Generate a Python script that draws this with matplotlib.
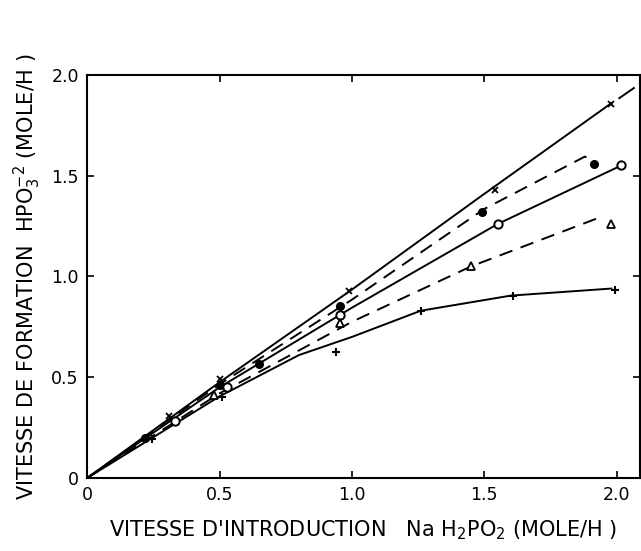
import matplotlib
matplotlib.use('Agg')
import matplotlib.pyplot as plt

# measured points (x = introduction rate, y = formation rate)
x_cross = [0.31, 0.50, 0.99, 1.54, 1.98]
y_cross = [0.31, 0.49, 0.93, 1.43, 1.855]
x_dot = [0.22, 0.50, 0.65, 0.955, 1.49, 1.915]
y_dot = [0.20, 0.46, 0.565, 0.855, 1.32, 1.56]
x_circ = [0.33, 0.53, 0.955, 1.55, 2.015]
y_circ = [0.285, 0.45, 0.81, 1.26, 1.555]
x_tri = [0.48, 0.955, 1.45, 1.98]
y_tri = [0.41, 0.77, 1.05, 1.26]
x_plus = [0.245, 0.51, 0.94, 1.26, 1.61, 1.995]
y_plus = [0.195, 0.40, 0.625, 0.83, 0.905, 0.935]

# hand-drawn curves
cx_cross = [0, 0.5, 1.0, 1.5, 1.98]
cy_cross = [0, 0.475, 0.935, 1.41, 1.86]
ex_cross = [2.01, 2.065]
ey_cross = [1.885, 1.935]
cx_dot = [0, 0.22, 0.5, 1.0, 1.5, 1.88, 1.90]
cy_dot = [0, 0.205, 0.465, 0.885, 1.335, 1.595, 1.58]
cx_circ = [0, 0.5, 1.0, 1.55, 2.0]
cy_circ = [0, 0.45, 0.845, 1.26, 1.54]
cx_tri = [0, 0.5, 1.0, 1.45, 1.95]
cy_tri = [0, 0.42, 0.775, 1.05, 1.30]
cx_plus = [0, 0.5, 0.8, 1.0, 1.26, 1.6, 1.98]
cy_plus = [0, 0.405, 0.61, 0.70, 0.83, 0.905, 0.94]

xticks = [0, 0.5, 1.0, 1.5, 2.0]
xticklabels = ['0', '0.5', '1.0', '1.5', '2.0']
yticks = [0, 0.5, 1.0, 1.5, 2.0]
yticklabels = ['0', '0.5', '1.0', '1.5', '2.0']

fig = plt.figure(figsize=(6.41, 5.51), dpi=100)
ax = fig.add_axes([0.136, 0.1325, 0.862, 0.7315])

dash = (0, (7, 4.5))
lw = 1.4
ax.plot(cx_cross, cy_cross, color='black', lw=lw)
ax.plot(ex_cross, ey_cross, color='black', lw=lw)
ax.plot(cx_dot, cy_dot, color='black', lw=lw, linestyle=dash)
ax.plot(cx_circ, cy_circ, color='black', lw=lw)
ax.plot(cx_tri, cy_tri, color='black', lw=lw, linestyle=dash)
ax.plot(cx_plus, cy_plus, color='black', lw=lw)

ax.plot(x_cross, y_cross, 'x', color='black', ms=5, mew=1.3, ls='none')
ax.plot(x_dot, y_dot, 'o', color='black', ms=5.5, ls='none')
ax.plot(x_circ, y_circ, 'o', mfc='white', mec='black', ms=6, mew=1.4, ls='none')
ax.plot(x_tri, y_tri, '^', mfc='white', mec='black', ms=6, mew=1.3, ls='none')
ax.plot(x_plus, y_plus, '+', color='black', ms=6, mew=1.5, ls='none')

ax.set_xlim(0, 2.087)
ax.set_ylim(0, 2.0)
ax.set_xticks(xticks)
ax.set_xticklabels(xticklabels)
ax.set_yticks(yticks)
ax.set_yticklabels(yticklabels)
ax.tick_params(direction='in', length=5, width=1.2, labelsize=12.5,
               top=True, right=True, pad=6)
for s in ax.spines.values():
    s.set_linewidth(1.5)

ax.set_xlabel("VITESSE D'INTRODUCTION   Na H$_2$PO$_2$ (MOLE/H )", fontsize=15, labelpad=10)
ax.set_ylabel("VITESSE DE FORMATION  HPO$_3^{-2}$ (MOLE/H )", fontsize=15, labelpad=6)

plt.savefig('out.png', dpi=100)
